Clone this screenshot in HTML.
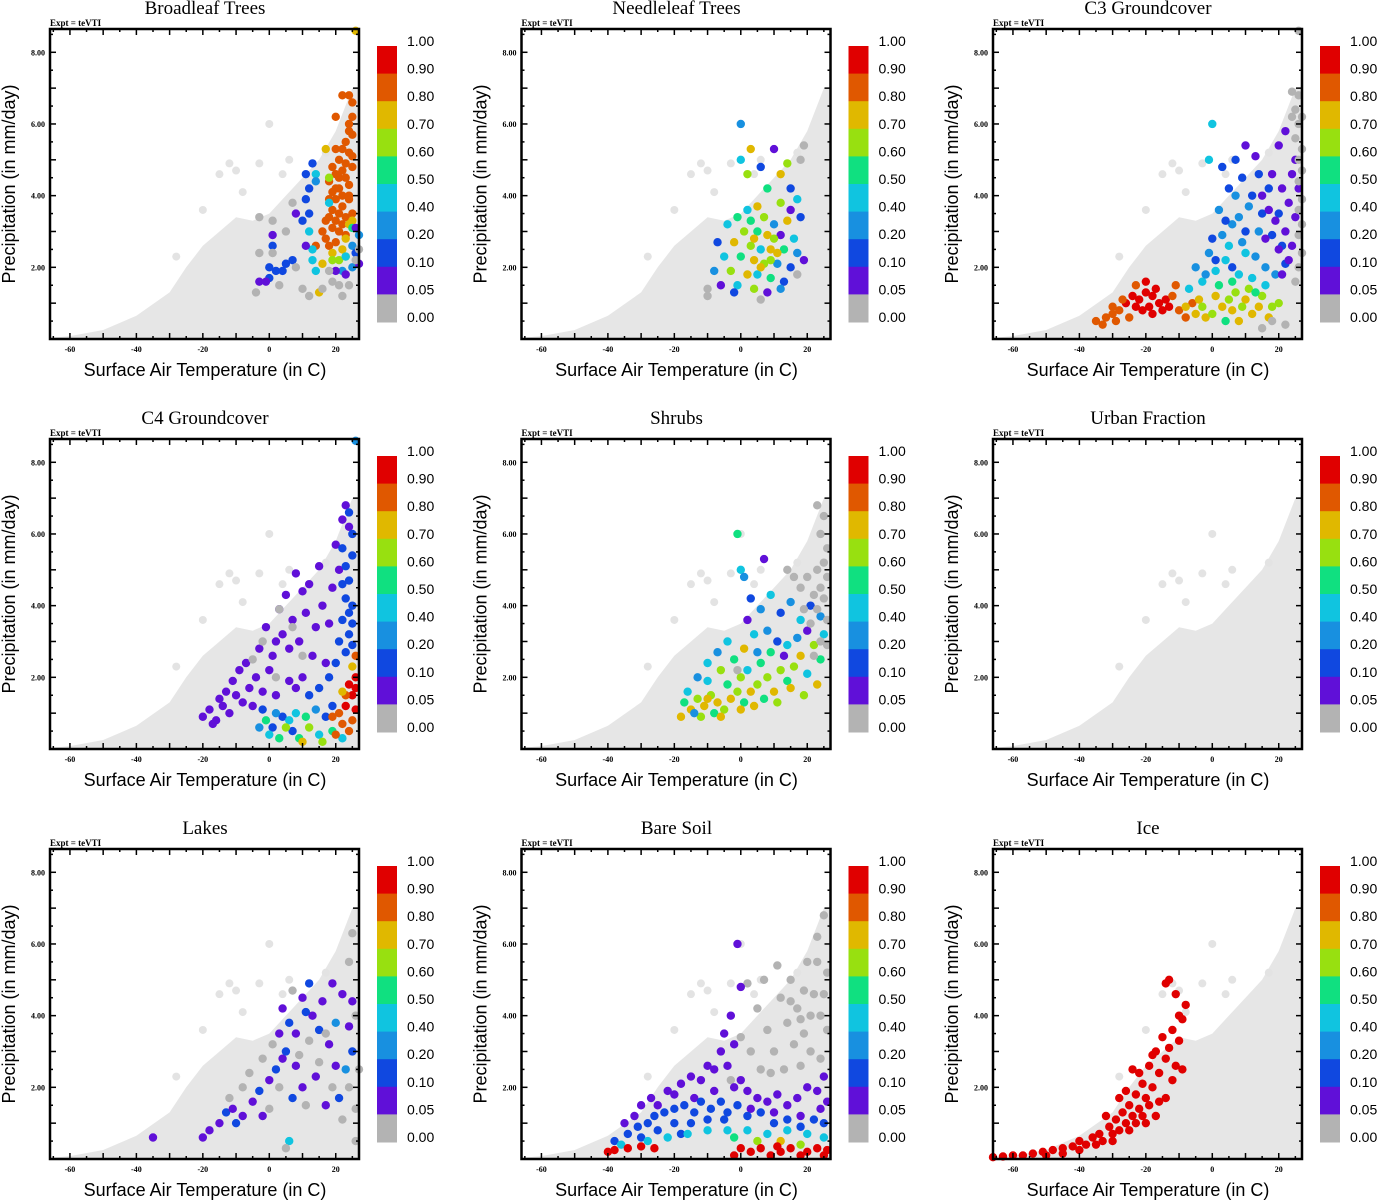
<!DOCTYPE html>
<html><head><meta charset="utf-8"><style>
body{margin:0;background:#fff;}
svg{display:block;}
</style></head><body>
<svg id="fig" width="1378" height="1200" viewBox="0 0 1378 1200" xmlns="http://www.w3.org/2000/svg"></svg>
<script>
const NS="http://www.w3.org/2000/svg";
const colors=["#b3b3b3","#6010d8","#1048e0","#1890e0","#10c4e0","#10e080","#98e010","#e0b800","#e05800","#e00000"];
const cbLabels=["1.00","0.90","0.80","0.70","0.60","0.50","0.40","0.20","0.10","0.05","0.00"];
const xTicks=[-60,-40,-20,0,20];
const yTicks=[2,4,6,8];
const titles=["Broadleaf Trees","Needleleaf Trees","C3 Groundcover","C4 Groundcover","Shrubs","Urban Fraction","Lakes","Bare Soil","Ice"];
const envT=[-66,-60,-50,-40,-30,-25,-20,-15,-10,-5,0,5,10,15,20,25,27,27];
const envP=[0.03,0.08,0.25,0.65,1.3,2.0,2.6,3.0,3.4,3.3,3.5,4.0,4.5,5.0,5.8,7.0,7.0,0];
const bgDots=[[0,6.0],[-12,4.9],[-15,4.6],[-10,4.7],[-3,4.9],[4,4.6],[-28,2.3],[-20,3.6],[17,5.2],[-8,4.1],[6,5.0]];
const p1=[[22,6.8,8],[24,6.8,8],[25,6.6,8],[25,6.2,8],[24,6.0,8],[25,5.7,8],[23,5.5,8],[24,5.2,8],[22,5.3,8],[20,5.3,8],[21,5.0,8],[23,4.9,8],[25,4.8,8],[19,4.8,8],[21,4.5,8],[23,4.5,8],[24,4.3,8],[20,4.2,8],[22,4.0,8],[24,3.9,8],[18,3.9,8],[19,3.6,8],[21,3.5,8],[23,3.4,8],[25,3.5,8],[17,3.3,8],[19,3.1,8],[21,3.0,8],[23,2.9,8],[16,3.0,8],[17,2.8,8],[20,2.7,8],[18,2.6,8],[20,6.2,8],[14,2.6,8],[22,3.7,8],[20,3.9,8],[18,4.4,8],[22,4.7,8],[24,5.8,8],[25,5.1,8],[24,4.0,8],[20,4.6,8],[21,4.2,8],[19,4.1,8],[18,3.4,8],[22,3.2,8],[20,3.3,8],
[17,5.3,7],[25,3.3,7],[24,3.2,7],[22,2.5,7],[19,2.4,7],[16,2.1,7],[15,1.3,7],[26,8.6,7],[23,2.8,7],[18,4.5,6],[23,2.3,6],[19,2.2,6],[25,3.1,5],[21,2.2,6],
[14,4.6,4],[14,4.4,3],[13,2.5,4],[13,2.2,4],[14,1.9,4],[22,1.9,3],[25,2.0,3],[27,2.9,3],[18,3.8,4],[12,3.0,4],[23,2.3,4],[25,2.6,3],
[13,4.9,2],[11,4.6,2],[12,4.2,2],[11,3.9,2],[12,3.5,2],[10,3.3,2],[0,2.0,2],[2,1.9,2],[4,1.9,2],[5,2.1,2],[7,2.2,2],[1,2.6,2],[0,1.7,2],[26,2.4,2],
[8,3.5,1],[1,2.9,1],[-3,1.6,1],[-1,1.6,1],[11,2.6,1],[20,1.9,1],[23,1.8,1],[26,3.1,1],[27,2.1,1],
[7,3.8,0],[1,3.3,0],[-3,3.4,0],[5,3.0,0],[-3,2.4,0],[1,2.4,0],[8,2.0,0],[-4,1.3,0],[10,1.4,0],[12,1.2,0],[16,1.4,0],[19,1.6,0],[21,1.5,0],[24,1.5,0],[26,2.2,0],[22,1.2,0],[27,2.5,0],[18,1.9,0],[3,1.5,0]];
const p2=[[0,6.0,3],[0,5.0,4],[3,5.3,7],[2,4.6,6],[6,4.8,2],[10,5.3,1],[14,4.9,6],[12,4.6,7],[8,4.2,5],[15,4.2,2],[17,3.9,4],[12,3.8,6],[5,3.7,7],[2,3.6,4],[-1,3.4,5],[7,3.4,6],[10,3.2,3],[14,3.3,7],[18,3.4,2],[-4,3.2,4],[1,3.0,6],[5,3.0,5],[8,2.9,7],[12,2.9,1],[16,2.8,4],[-7,2.7,2],[-2,2.7,7],[3,2.6,6],[6,2.5,4],[9,2.5,7],[13,2.5,5],[17,2.4,3],[-5,2.3,4],[0,2.3,5],[4,2.2,7],[7,2.1,6],[11,2.1,3],[15,2.0,2],[19,2.2,1],[-8,1.9,3],[-3,1.9,6],[2,1.8,7],[5,1.8,4],[9,1.7,5],[13,1.6,2],[-6,1.5,1],[-1,1.5,4],[4,1.4,6],[8,1.3,1],[12,1.4,3],[-10,1.4,0],[-10,1.2,0],[17,1.8,0],[19,5.4,0],[18,5.0,0],[-2,1.3,2],[6,1.1,0],[10,2.8,6],[3,3.3,5],[15,3.6,1],[6,2.0,7],[9,2.2,6],[4,2.8,7],[11,2.4,7]];
const p3=[[-22,1.1,9],[-20,1.3,9],[-18,1.2,9],[-16,1.0,9],[-19,0.9,9],[-21,0.8,9],[-23,0.9,9],[-17,1.4,9],[-14,1.1,9],[-24,1.2,9],[-18,0.7,9],[-20,1.6,9],[-15,0.8,9],[-26,1.0,9],[-13,0.9,9],
[-35,0.5,8],[-32,0.6,8],[-30,0.7,8],[-28,0.8,8],[-33,0.4,8],[-27,1.1,8],[-25,0.6,8],[-29,0.5,8],[-12,1.2,8],[-10,0.8,8],[-8,0.6,8],[-11,1.5,8],[-23,1.5,8],[-30,0.9,8],[-6,1.0,8],
[-8,0.9,7],[-5,0.7,7],[-2,0.6,7],[3,0.9,7],[6,0.8,7],[10,1.1,7],[14,0.9,7],[1,1.2,7],[-4,1.1,7],[8,0.5,7],[12,0.7,7],[17,0.6,7],
[0,0.7,6],[5,1.1,6],[9,0.9,6],[15,1.2,6],[18,0.9,6],[-3,0.9,6],[11,1.4,6],[20,1.0,6],[7,1.3,6],[2,1.5,5],[6,1.6,5],[13,1.3,5],[4,0.5,5],
[-7,1.4,4],[-3,1.6,4],[1,1.9,4],[4,2.2,4],[8,1.8,4],[12,1.7,4],[16,1.5,4],[0,6.0,4],[-1,5.0,4],[5,2.6,4],[10,2.4,4],
[-5,2.0,3],[-1,2.4,3],[3,2.9,3],[6,3.2,3],[9,2.7,3],[13,2.3,3],[16,2.0,3],[19,1.8,3],[2,3.6,3],[7,4.0,3],[11,3.7,3],[14,3.0,3],[-2,1.8,3],[8,3.4,3],
[0,2.8,2],[4,3.3,2],[5,4.2,2],[9,4.5,2],[12,4.0,2],[15,3.5,2],[18,2.9,2],[21,2.6,2],[3,4.8,2],[7,5.0,2],[6,2.0,2],[10,3.0,2],[17,4.2,2],[20,3.5,2],[1,2.2,2],[14,4.6,2],[22,2.1,2],
[20,5.4,1],[18,4.6,1],[21,4.2,1],[23,3.8,1],[19,3.3,1],[22,3.0,1],[24,4.6,1],[25,5.0,1],[20,2.5,1],[23,2.2,1],[17,3.6,1],[25,3.4,1],[16,2.8,1],[24,2.6,1],[22,5.8,1],[10,5.4,1],[26,4.2,1],[21,1.8,1],[15,4.0,1],[13,5.1,1],
[24,6.9,0],[26,6.8,0],[25,6.4,0],[26,6.0,0],[25,5.6,0],[27,5.3,0],[26,5.0,0],[27,4.7,0],[26,4.4,0],[27,3.9,0],[26,3.6,0],[27,3.2,0],[26,2.9,0],[27,2.4,0],[26,2.0,0],[25,1.6,0],[18,0.5,0],[22,0.4,0],[15,0.3,0],[26,8.6,0],[27,6.2,0],[24,6.2,0]];
const p4=[[-20,0.9,1],[-18,1.1,1],[-16,0.8,1],[-14,1.2,1],[-12,1.0,1],[-15,1.4,1],[-10,1.5,1],[-8,1.3,1],[-6,1.7,1],[-11,1.9,1],[-4,2.0,1],[-7,2.4,1],[-2,1.6,1],[0,2.2,1],[-3,2.8,1],[1,2.6,1],[2,3.0,1],[4,3.2,1],[6,2.8,1],[-1,3.4,1],[3,3.9,1],[5,4.3,1],[7,3.6,1],[8,4.9,1],[10,4.4,1],[9,3.0,1],[11,3.8,1],[12,4.6,1],[14,3.4,1],[13,2.6,1],[15,5.1,1],[16,4.0,1],[18,3.5,1],[17,2.4,1],[19,4.5,1],[20,5.7,1],[21,5.0,1],[22,6.4,1],[23,6.8,1],[24,6.2,1],[-9,2.2,1],[-13,1.6,1],[-17,0.7,1],[6,1.9,1],[10,2.0,1],[-5,1.2,1],[2,1.5,1],[8,1.7,1],
[22,5.6,2],[23,5.1,2],[24,4.7,2],[25,5.4,2],[23,4.2,2],[24,3.8,2],[25,4.0,2],[22,3.6,2],[24,3.2,2],[25,2.9,2],[23,2.7,2],[21,3.0,2],[20,2.4,2],[25,6.0,2],[24,6.6,2],[25,3.5,2],[22,4.6,2],[18,2.0,2],[15,1.7,2],[12,1.5,2],[19,1.2,2],[17,0.9,2],[-2,1.1,2],[1,0.6,2],[4,0.9,2],[7,0.5,2],[26,8.6,3],
[0,0.4,4],[3,0.3,5],[6,0.8,4],[9,0.3,5],[12,0.6,6],[15,0.4,4],[2,1.0,3],[5,0.6,6],[8,1.0,4],[11,0.9,5],[14,1.1,3],[16,0.2,6],[-3,0.6,3],[-1,0.8,5],[19,0.5,5],[22,0.3,4],[10,0.2,7],
[21,1.0,8],[23,1.2,9],[25,1.5,9],[24,1.8,9],[26,1.7,9],[22,0.7,8],[24,0.5,8],[26,1.1,9],[20,0.4,8],[25,0.8,8],[23,1.5,8],[26,2.0,9],[25,2.3,7],[19,0.9,8],[22,1.6,7],[26,2.6,8],
[3,3.9,0],[7,3.4,0],[-2,3.0,0],[-5,2.5,0],[10,2.6,0],[2,2.0,0]];
const p5=[[-17,1.3,5],[-15,1.1,7],[-13,1.4,6],[-11,1.2,7],[-9,1.5,6],[-7,1.3,7],[-5,1.1,6],[-3,1.4,7],[-1,1.6,6],[1,1.3,5],[3,1.6,7],[5,1.8,6],[-16,1.6,4],[-12,0.9,6],[-8,1.0,5],[-4,1.8,5],[0,2.0,6],[2,2.2,4],[4,1.2,7],[6,2.4,5],[8,2.0,6],[10,1.6,7],[12,2.2,6],[14,1.9,5],[16,2.3,6],[18,2.6,7],[20,2.1,4],[22,2.9,6],[24,2.5,5],[25,3.2,4],[-10,1.9,4],[-6,2.2,6],[-2,2.5,5],[1,2.8,7],[-14,1.0,3],[-18,0.9,7],[7,1.4,5],[11,1.3,6],[15,1.7,7],[19,1.5,6],[23,1.8,7],[-6,0.9,7],[-10,1.4,7],[0,1.1,7],[9,2.7,5],
[-1,6.0,5],[0,5.0,4],[1,4.8,3],[7,5.3,1],[3,4.2,2],[6,3.9,3],[9,4.3,4],[12,3.8,2],[15,4.1,3],[18,3.6,4],[21,4.0,2],[24,3.7,3],[4,3.2,4],[8,3.3,3],[11,3.0,2],[14,2.9,4],[17,3.1,3],[20,3.3,1],[-4,3.0,4],[-7,2.7,3],[-10,2.4,4],[-13,2.0,3],[2,3.6,1],[13,2.6,1],[5,2.7,3],
[23,6.8,0],[25,6.5,0],[24,6.0,0],[26,5.6,0],[25,5.2,0],[23,5.0,0],[26,4.8,0],[24,4.5,0],[20,4.8,0],[22,4.3,0],[25,4.2,0],[18,4.5,0],[23,3.9,0],[26,3.6,0],[21,3.5,0],[19,3.9,0],[24,3.0,0],[26,2.9,0],[22,2.6,0],[16,4.8,0],[14,5.0,0],[-1,2.2,0]];
const p6=[];
const p7=[[-35,0.6,1],[-20,0.6,1],[-18,0.8,1],[-15,1.0,1],[-13,1.3,2],[-11,1.4,1],[-8,1.2,1],[-5,1.6,1],[-3,1.9,2],[0,2.2,1],[2,2.5,2],[4,2.8,1],[5,3.0,2],[3,3.5,1],[6,3.8,2],[8,3.5,1],[10,4.5,1],[12,4.9,2],[13,4.0,1],[15,3.6,2],[16,4.4,1],[18,3.2,1],[20,3.8,3],[22,4.6,1],[24,3.7,1],[25,3.0,2],[23,2.5,3],[10,2.0,1],[7,1.7,2],[14,2.3,1],[17,1.5,1],[21,1.7,2],[-10,1.0,2],[11,4.1,2],[19,4.9,1],[8,2.6,1],[-2,1.2,1],[25,4.4,1],[20,2.6,1],[4,4.2,1],[6,0.5,4],
[-12,1.7,0],[-6,2.4,0],[-2,2.8,0],[1,3.2,0],[3,2.0,0],[7,4.7,0],[9,2.9,0],[11,1.5,0],[15,2.7,0],[19,2.0,0],[22,1.1,0],[24,2.0,0],[26,4.0,0],[26,1.4,0],[12,3.3,0],[0,1.4,0],[-8,2.0,0],[17,3.5,0],[25,6.3,0],[24,5.5,0],[26,0.5,0],[5,0.3,0],[27,2.5,0]];
const p8=[[0,3.4,0],[3,3.0,0],[5,4.2,0],[8,3.6,0],[10,3.0,0],[12,4.5,0],[14,3.8,0],[15,5.0,0],[17,4.2,0],[19,3.5,0],[20,5.5,0],[22,4.6,0],[23,6.2,0],[24,4.0,0],[25,6.8,0],[26,5.2,0],[21,3.0,0],[18,2.6,0],[13,2.5,0],[9,2.4,0],[6,2.5,0],[16,3.2,0],[26,3.6,0],[24,2.8,0],[11,5.4,0],[7,5.0,0],[2,4.9,0],[23,5.5,0],[19,4.7,0],[-3,2.2,0],[21,4.0,0],[25,4.6,0],[15,4.4,0],[18,3.9,0],
[-35,1.0,1],[-32,1.2,1],[-30,1.5,1],[-27,1.7,1],[-25,1.5,1],[-22,1.9,1],[-20,1.8,1],[-18,2.1,1],[-15,2.3,1],[-12,2.2,1],[-10,2.6,1],[-8,2.5,1],[-6,3.0,1],[-4,2.6,1],[-2,3.2,1],[-1,6.0,1],[0,4.8,1],[-3,4.0,1],[-5,3.5,1],[0,2.2,1],[2,1.9,1],[5,1.7,1],[8,1.6,1],[11,1.8,1],[14,1.5,1],[17,1.7,1],[20,2.0,1],[23,1.9,1],[25,2.3,1],[26,1.6,1],[-14,1.7,1],[-8,1.9,1],[-2,2.0,1],[3,1.4,1],[10,1.3,1],[18,1.2,1],[24,1.4,1],
[-38,0.5,2],[-34,0.7,2],[-31,0.9,2],[-28,1.0,2],[-26,1.2,2],[-23,1.3,2],[-20,1.4,2],[-17,1.5,2],[-14,1.3,2],[-12,1.6,2],[-9,1.4,2],[-6,1.6,2],[-4,1.3,2],[-1,1.5,2],[-25,0.8,2],[-20,1.0,2],[-15,1.0,2],[-10,1.1,2],[-5,1.1,2],[2,1.2,2],[6,1.3,2],[10,1.0,2],[14,1.1,2],[18,0.9,2],[22,1.1,2],[25,1.0,2],[-30,0.6,2],[-18,0.7,2],
[-36,0.4,4],[-28,0.5,4],[-22,0.6,4],[-16,0.7,4],[-10,0.8,4],[-4,0.8,4],[2,0.8,4],[8,0.7,4],[14,0.8,4],[20,0.7,4],[25,0.6,4],[-2,0.6,5],[5,0.5,6],[12,0.5,7],[18,0.4,6],
[-40,0.2,9],[-38,0.25,9],[-34,0.3,9],[-30,0.35,9],[-26,0.3,9],[0,0.3,9],[3,0.2,9],[6,0.3,9],[9,0.1,9],[12,0.2,9],[15,0.3,9],[18,0.1,9],[20,0.2,9],[23,0.3,9],[25,0.1,9],[26,0.25,9],[11,0.35,9],[-2,0.1,9]];
const p9=[[-66,0.05,9],[-63,0.07,9],[-60,0.1,9],[-57,0.1,9],[-54,0.15,9],[-51,0.2,9],[-48,0.25,9],[-45,0.3,9],[-42,0.35,9],[-40,0.5,9],[-38,0.4,9],[-36,0.6,9],[-34,0.7,9],[-33,0.5,9],[-31,0.9,9],[-30,0.7,9],[-29,1.1,9],[-28,0.8,9],[-27,1.3,9],[-26,1.0,9],[-25,1.5,9],[-24,1.2,9],[-23,1.8,9],[-22,1.4,9],[-21,2.1,9],[-20,1.7,9],[-19,2.6,9],[-18,2.0,9],[-17,3.0,9],[-16,2.4,9],[-15,3.4,9],[-14,2.8,9],[-13,3.1,9],[-12,3.6,9],[-11,2.6,9],[-10,3.3,9],[-9,3.9,9],[-8,4.3,9],[-10,4.0,9],[-14,4.9,9],[-13,5.0,9],[-11,4.6,9],[-12,2.2,9],[-16,1.6,9],[-20,1.0,9],[-25,0.8,9],[-30,0.5,9],[-35,0.4,9],[-40,0.25,9],[-18,2.9,9],[-22,2.4,9],[-26,1.9,9],[-17,1.2,9],[-14,1.7,9],[-9,2.5,9],[-32,1.2,9],[-28,1.7,9],[-24,2.5,9],[-45,0.15,9],[-50,0.1,9],[-21,1.2,9],[-19,1.5,9],[-23,1.0,9]];
const panels=[p1,p2,p3,p4,p5,p6,p7,p8,p9];

const svg=document.getElementById('fig');
function el(tag,attrs,parent,text){const e=document.createElementNS(NS,tag);for(const k in attrs)e.setAttribute(k,attrs[k]);if(text!==undefined)e.textContent=text;(parent||svg).appendChild(e);return e;}
const X0=50,X1=359,Y0=29,Y1=339;
const tMin=-66,tMax=27,pMax=8.65;
function sx(t){return X0+(t-tMin)/(tMax-tMin)*(X1-X0);}
function sy(p){return Y1-p/pMax*(Y1-Y0);}
const serif='"Liberation Serif",serif', sans='"Liberation Sans",sans-serif';

panels.forEach((pts,i)=>{
  const ox=(i%3)*471.5, oy=Math.floor(i/3)*410;
  const g=el('g',{transform:`translate(${ox},${oy})`});
  
  
  const t=el('text',{x:205,y:14,'text-anchor':'middle','font-family':serif,'font-size':19},g,titles[i]);
  
  
  const ex=el('text',{x:50,y:26,'font-family':serif,'font-size':9,'font-weight':'bold'},g,'Expt = teVTI');
  
  
  let d=envT.map((tt,k)=>(k?'L':'M')+sx(tt).toFixed(1)+','+sy(envP[k]).toFixed(1)).join('')+'L'+sx(tMin)+','+sy(0)+'Z';
  const bg=el('path',{d:d,fill:'#e6e6e6'},g);
  
  
  bgDots.forEach(b=>{
    const c=el('circle',{cx:sx(b[0]),cy:sy(b[1]),r:4,fill:'#e3e3e3'},g);
    
    
  });
  pts.forEach(p=>{
    const c=el('circle',{cx:sx(p[0]),cy:sy(p[1]),r:3.4,fill:colors[p[2]],stroke:colors[p[2]],'stroke-width':1.6},g);
    
    
  });
  const fr=el('rect',{x:X0,y:Y0,width:X1-X0,height:Y1-Y0,fill:'none',stroke:'#000','stroke-width':2.5},g);
  
  
  for(let tt=-65;tt<=25;tt+=5){
    const L=(tt%10===0)?6:3;
    el('line',{x1:sx(tt),x2:sx(tt),y1:Y1,y2:Y1-L,stroke:'#000','stroke-width':1.5},g);
    el('line',{x1:sx(tt),x2:sx(tt),y1:Y0,y2:Y0+L,stroke:'#000','stroke-width':1.5},g);
  }
  for(let pp=0.5;pp<8.6;pp+=0.5){
    const L=(Math.abs(pp%1)<0.01)?6:3;
    el('line',{x1:X0,x2:X0+L,y1:sy(pp),y2:sy(pp),stroke:'#000','stroke-width':1.5},g);
    el('line',{x1:X1,x2:X1-L,y1:sy(pp),y2:sy(pp),stroke:'#000','stroke-width':1.5},g);
  }
  xTicks.forEach(v=>{
    const tx=el('text',{x:sx(v),y:352,'text-anchor':'middle','font-family':serif,'font-size':8,'font-weight':'bold'},g,String(v));
    
    
  });
  yTicks.forEach(v=>{
    const ty=el('text',{x:45,y:sy(v)+3,'text-anchor':'end','font-family':serif,'font-size':8,'font-weight':'bold'},g,v.toFixed(2));
    
    
  });
  const xt=el('text',{x:205,y:376,'text-anchor':'middle','font-family':sans,'font-size':18},g,'Surface Air Temperature (in C)');
  
  
  const yt=el('text',{x:0,y:0,'text-anchor':'middle','font-family':sans,'font-size':18,transform:'translate(15,184) rotate(-90)'},g,'Precipitation (in mm/day)');
  
  
  const segH=(322-46)/10;
  for(let k=0;k<10;k++){
    const r=el('rect',{x:377,y:46+k*segH,width:20,height:segH+0.5,fill:colors[9-k]},g);
    
    
  }
  cbLabels.forEach((lb,k)=>{
    const tl=el('text',{x:407,y:46+k*segH,'font-family':sans,'font-size':14},g,lb);
    
    
  });
});
</script>
</body></html>
